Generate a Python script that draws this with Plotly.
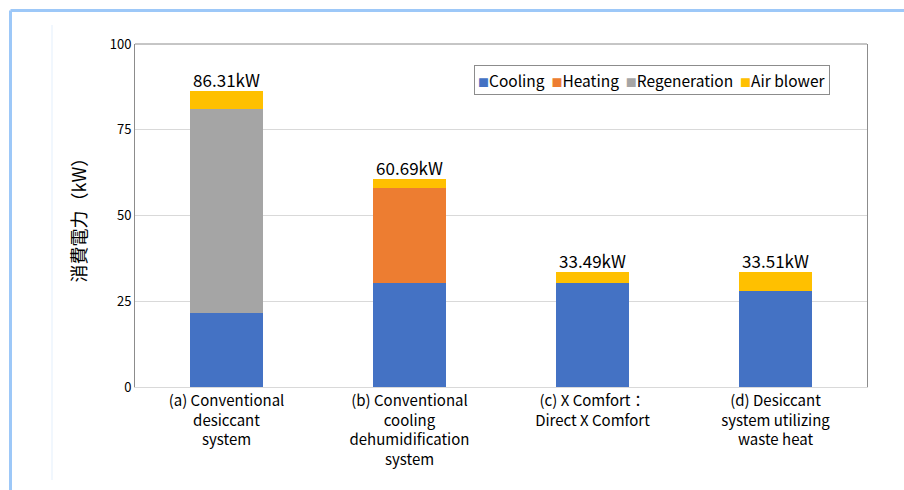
import plotly.graph_objects as go

categories = ["(a) Conventional<br>desiccant<br>system",
              "(b) Conventional<br>cooling<br>dehumidification<br>system",
              "(c) X Comfort：<br>Direct X Comfort",
              "(d) Desiccant<br>system utilizing<br>waste heat"]
cooling = [21.6, 30.3, 30.3, 28.0]
heating = [0, 27.7, 0, 0]
regeneration = [59.4, 0, 0, 0]
air_blower = [5.31, 2.69, 3.19, 5.51]
totals = [86.31, 60.69, 33.49, 33.51]
total_labels = ["86.31kW", "60.69kW", "33.49kW", "33.51kW"]
y_ticks = [0, 25, 50, 75, 100]
series_names = ["Cooling", "Heating", "Regeneration", "Air blower"]
series_colors = ["#4472C4", "#ED7D31", "#A5A5A5", "#FFC000"]

FONT = "Noto Sans CJK JP, Noto Sans, sans-serif"
L, R, T, B = 135, 37, 44, 103
PW, PH = 904 - L - R, 490 - T - B

def px(x):
    return (x - L) / PW

def py(y):
    return (490 - B - y) / PH

fig = go.Figure()
for name, vals, col in zip(series_names, [cooling, heating, regeneration, air_blower], series_colors):
    fig.add_trace(go.Bar(x=categories, y=vals, name=name,
                         marker=dict(color=col, line=dict(width=0)), width=0.4,
                         showlegend=False))

fig.add_trace(go.Scatter(x=categories, y=totals, mode="text", text=total_labels,
                         textposition="top center",
                         textfont=dict(size=17, color="#000", family=FONT),
                         showlegend=False, hoverinfo="skip"))

# legend as a single boxed annotation
legend_text = "  ".join(
    f"<span style='color:{c};font-size:11px'>■</span>{n}" for n, c in zip(series_names, series_colors))
fig.add_annotation(xref="paper", yref="paper", x=px(474), y=py(65), xanchor="left", yanchor="top",
                   text=legend_text, showarrow=False, align="left",
                   font=dict(size=15.5, family=FONT, color="#000"),
                   bordercolor="#8c8c8c", borderwidth=1, borderpad=3, bgcolor="white")

fig.update_layout(
    barmode="stack",
    width=904, height=490,
    margin=dict(l=L, r=R, t=T, b=B, autoexpand=False),
    paper_bgcolor="white", plot_bgcolor="white",
    font=dict(family=FONT, color="#000"),
    showlegend=False,
    xaxis=dict(showline=True, linecolor="#d9d9d9", mirror=False,
               tickfont=dict(size=15, family=FONT), ticks="", range=[-0.5, 3.5]),
    yaxis=dict(range=[0, 100], tickvals=y_ticks, showgrid=True, gridcolor="#d9d9d9",
               showline=True, linecolor="#8c8c8c", mirror=True, ticks="",
               tickfont=dict(size=13, family=FONT), zeroline=False,
               title=dict(text="消費電力（kW）", font=dict(size=18, family=FONT), standoff=18)),
)

# top border of the plot frame
fig.add_shape(type="line", xref="paper", yref="paper", x0=0, x1=1, y0=1, y1=1,
              line=dict(color="#8c8c8c", width=1))

# decorative page frame
fig.add_shape(type="line", xref="paper", yref="paper", x0=px(10.5), x1=px(906),
              y0=py(10.5), y1=py(10.5), line=dict(color="#9DC8F8", width=3))
fig.add_shape(type="line", xref="paper", yref="paper", x0=px(10.5), x1=px(10.5),
              y0=py(10.5), y1=py(492), line=dict(color="#9DC8F8", width=3))
fig.add_shape(type="line", xref="paper", yref="paper", x0=px(52), x1=px(52),
              y0=py(25), y1=py(480), line=dict(color="#E3EFFC", width=1))

fig.write_html("out.html", config={"displayModeBar": False},
               post_script="document.body.style.margin='0';document.body.style.overflow='hidden';")
